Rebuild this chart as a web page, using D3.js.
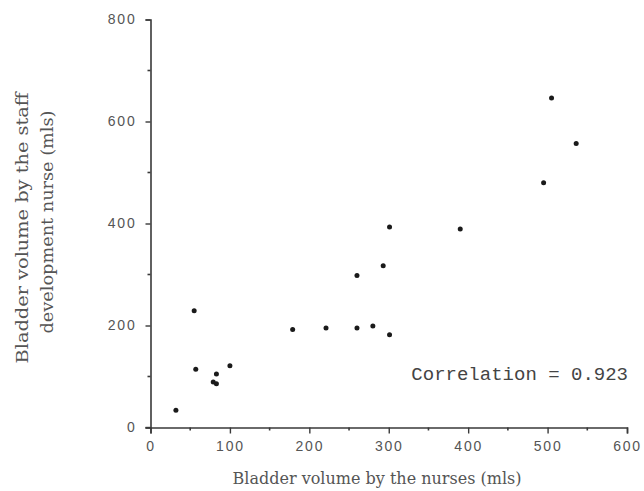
<!DOCTYPE html>
<html>
<head>
<meta charset="utf-8">
<script src="https://cdn.jsdelivr.net/npm/d3@7"></script>
<style>
  html, body { margin: 0; padding: 0; background: #fff; }
  svg { display: block; }
</style>
</head>
<body>
<div id="chart"></div>
<script>
// --- data ---
const nursesVolume = [32, 55, 57, 79, 83, 83, 100, 179, 221, 260, 280, 301, 260, 293, 301, 390, 495, 505, 536];
const staffVolume  = [34, 229, 114, 89, 86, 105, 121, 192, 195, 195, 199, 182, 298, 317, 393, 389, 480, 646, 557];
const xTicks = [0, 100, 200, 300, 400, 500, 600];
const xMinor = [50, 150, 250, 350, 450, 550];
const yTicks = [0, 200, 400, 600, 800];
const yMinor = [100, 300, 500, 700];
const correlationLabel = "Correlation = 0.923";
const xTitle = "Bladder volume by the nurses (mls)";
const yTitle = ["Bladder volume by the staff", "development nurse (mls)"];

const width = 644;
const height = 491;

const x = d3.scaleLinear().domain([0, 600]).range([150.5, 627]);
const y = d3.scaleLinear().domain([0, 800]).range([427.5, 19.5]);

const svg = d3.select("#chart").append("svg")
  .attr("width", width)
  .attr("height", height);

const axisColor = "#3a3a3a";
const textColor = "#555";

// major ticks via d3 axes, minor ticks drawn as short marks
const xAxis = svg.append("g")
  .attr("transform", `translate(0,${y(0)})`)
  .call(d3.axisBottom(x).tickValues(xTicks).tickSize(6).tickPadding(8).tickFormat(d3.format("d")));

const yAxis = svg.append("g")
  .attr("transform", `translate(${x(0)},0)`)
  .call(d3.axisLeft(y).tickValues(yTicks).tickSize(5).tickPadding(9).tickFormat(d3.format("d")));

[xAxis, yAxis].forEach(g => {
  g.select(".domain").attr("stroke", axisColor).attr("stroke-width", 1.6);
  g.selectAll(".tick line").attr("stroke", axisColor).attr("stroke-width", 1.4);
  g.selectAll(".tick text")
    .attr("fill", textColor)
    .style("font-family", "Arial, 'Liberation Sans', sans-serif")
    .style("font-size", "14px")
    .style("letter-spacing", "1.8px");
});

// origin cross: the x axis also reaches a bit left of the y axis
svg.append("line")
  .attr("x1", x(0) - 5).attr("x2", x(0))
  .attr("y1", y(0)).attr("y2", y(0))
  .attr("stroke", axisColor).attr("stroke-width", 1.4);

svg.append("g").selectAll("line")
  .data(xMinor)
  .join("line")
  .attr("x1", d => x(d)).attr("x2", d => x(d))
  .attr("y1", y(0)).attr("y2", y(0) + 3)
  .attr("stroke", axisColor).attr("stroke-width", 1.6);

svg.append("g").selectAll("line")
  .data(yMinor)
  .join("line")
  .attr("x1", x(0) - 3).attr("x2", x(0))
  .attr("y1", d => y(d)).attr("y2", d => y(d))
  .attr("stroke", axisColor).attr("stroke-width", 1.6);

// points
svg.append("g").selectAll("circle")
  .data(d3.zip(nursesVolume, staffVolume))
  .join("circle")
  .attr("cx", d => x(d[0]))
  .attr("cy", d => y(d[1]))
  .attr("r", 2.5)
  .attr("fill", "#1a1a1a");

// correlation note
svg.append("text")
  .attr("x", 628)
  .attr("y", 380)
  .attr("text-anchor", "end")
  .attr("fill", "#444")
  .style("font-family", "'Liberation Mono', 'DejaVu Sans Mono', monospace")
  .style("font-size", "19px")
  .text(correlationLabel);

// axis titles
svg.append("text")
  .attr("x", 377)
  .attr("y", 484)
  .attr("text-anchor", "middle")
  .attr("fill", textColor)
  .attr("textLength", 289)
  .attr("lengthAdjust", "spacingAndGlyphs")
  .style("font-family", "'DejaVu Serif', serif")
  .style("font-size", "16px")
  .text(xTitle);

const yTitleG = svg.append("g")
  .attr("transform", "rotate(-90)");

yTitleG.selectAll("text")
  .data(yTitle)
  .join("text")
  .attr("x", (d, i) => i === 0 ? -228 : -222)
  .attr("y", (d, i) => i === 0 ? 28 : 53)
  .attr("text-anchor", "middle")
  .attr("fill", textColor)
  .attr("textLength", (d, i) => i === 0 ? 271 : 223)
  .attr("lengthAdjust", "spacingAndGlyphs")
  .style("font-family", "'DejaVu Serif', serif")
  .style("font-size", "16px")
  .text(d => d);
</script>
</body>
</html>
